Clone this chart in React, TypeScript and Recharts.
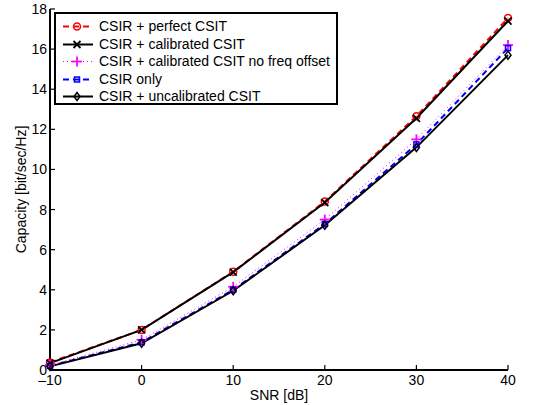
import { LineChart, Line, XAxis, YAxis } from 'recharts';

const snrDb = [-10, 0, 10, 20, 30, 40];
const perfectCsit = [0.38, 2.0, 4.9, 8.4, 12.65, 17.55];
const calibratedCsit = [0.34, 2.0, 4.88, 8.35, 12.55, 17.4];
const calibratedNoOffset = [0.25, 1.5, 4.15, 7.5, 11.5, 16.2];
const csirOnly = [0.2, 1.38, 4.0, 7.28, 11.25, 16.05];
const uncalibratedCsit = [0.18, 1.33, 3.95, 7.22, 11.1, 15.7];

const xTicks = [-10, 0, 10, 20, 30, 40];
const yTicks = [0, 2, 4, 6, 8, 10, 12, 14, 16, 18];

const data = snrDb.map((snr, i) => ({
  snr,
  perfect: perfectCsit[i],
  calibrated: calibratedCsit[i],
  noOffset: calibratedNoOffset[i],
  csir: csirOnly[i],
  uncalibrated: uncalibratedCsit[i],
}));

const FONT = '"Liberation Sans", Arial, sans-serif';

type MarkerKind = 'circle' | 'x' | 'plus' | 'square' | 'diamond';

const Marker = ({ kind, cx, cy, color }: { kind: MarkerKind; cx: number; cy: number; color: string }) => {
  const s = 3.5;
  switch (kind) {
    case 'circle':
      return <circle cx={cx} cy={cy} r={s} fill="none" stroke={color} strokeWidth={1.5} />;
    case 'x':
      return (
        <g stroke={color} strokeWidth={1.8}>
          <line x1={cx - s} y1={cy - s} x2={cx + s} y2={cy + s} />
          <line x1={cx - s} y1={cy + s} x2={cx + s} y2={cy - s} />
        </g>
      );
    case 'plus':
      return (
        <g stroke={color} strokeWidth={1.8}>
          <line x1={cx - 5} y1={cy} x2={cx + 5} y2={cy} />
          <line x1={cx} y1={cy - 5} x2={cx} y2={cy + 5} />
        </g>
      );
    case 'square':
      return <rect x={cx - 2.5} y={cy - 2.5} width={5} height={5} fill="none" stroke={color} strokeWidth={1.5} />;
    case 'diamond':
      return (
        <polygon
          points={`${cx},${cy - 4} ${cx + 3},${cy} ${cx},${cy + 4} ${cx - 3},${cy}`}
          fill="none"
          stroke={color}
          strokeWidth={1.5}
        />
      );
  }
};

const series = [
  { key: 'perfect', name: 'CSIR + perfect CSIT', color: '#ff0000', dash: '6 4', width: 2, marker: 'circle' as MarkerKind },
  { key: 'calibrated', name: 'CSIR + calibrated CSIT', color: '#000000', dash: undefined, width: 2, marker: 'x' as MarkerKind },
  { key: 'noOffset', name: 'CSIR + calibrated CSIT no freq offset', color: '#ff00ff', dash: '1 3', width: 1, marker: 'plus' as MarkerKind },
  { key: 'csir', name: 'CSIR only', color: '#0000ff', dash: '6 4', width: 2, marker: 'square' as MarkerKind },
  { key: 'uncalibrated', name: 'CSIR + uncalibrated CSIT', color: '#000000', dash: undefined, width: 2, marker: 'diamond' as MarkerKind },
];

const fmt = (v: number) => (v < 0 ? `\u2013${Math.abs(v)}` : `${v}`);

const BottomTick = (props: any) => {
  const { x, y, payload } = props;
  return (
    <g>
      <line x1={x} y1={y} x2={x} y2={y - 5} stroke="#000" strokeWidth={1.2} />
      <text x={x} y={y + 15} textAnchor="middle" fontSize={14} fontFamily={FONT} fill="#000">
        {fmt(payload.value)}
      </text>
    </g>
  );
};

const TopTick = (props: any) => {
  const { x, y } = props;
  return <line x1={x} y1={y} x2={x} y2={y + 5} stroke="#000" strokeWidth={1.2} />;
};

const LeftTick = (props: any) => {
  const { x, y, payload } = props;
  return (
    <g>
      <line x1={x} y1={y} x2={x + 5} y2={y} stroke="#000" strokeWidth={1.2} />
      <text x={x - 3} y={y + 5} textAnchor="end" fontSize={14} fontFamily={FONT} fill="#000">
        {payload.value}
      </text>
    </g>
  );
};

const RightTick = (props: any) => {
  const { x, y } = props;
  return <line x1={x} y1={y} x2={x - 5} y2={y} stroke="#000" strokeWidth={1.2} />;
};

const LegendBox = () => (
  <div
    style={{
      position: 'absolute',
      left: 54,
      top: 12,
      width: 280,
      height: 89,
      border: '2px solid #000',
      background: '#fff',
      fontFamily: FONT,
      fontSize: 14,
    }}
  >
    {series.map((s, i) => (
      <div key={s.key} style={{ position: 'absolute', left: 0, top: 4 + i * 17.5, height: 17, display: 'flex', alignItems: 'center' }}>
        <svg width={43} height={17} style={{ display: 'block' }}>
          <line x1={7} y1={8.5} x2={37} y2={8.5} stroke={s.color} strokeWidth={s.width} strokeDasharray={s.dash} />
          <Marker kind={s.marker} cx={21} cy={8.5} color={s.color} />
        </svg>
        <span style={{ whiteSpace: 'nowrap', lineHeight: '17px' }}>{s.name}</span>
      </div>
    ))}
  </div>
);

export default function App() {
  return (
    <div style={{ position: 'absolute', left: 0, top: 0, width: 533, height: 405, background: '#fff' }}>
      <LineChart width={533} height={405} data={data} margin={{ top: 9, right: 25, bottom: 2, left: 10 }}>
        <XAxis
          dataKey="snr"
          type="number"
          domain={[-10, 40]}
          ticks={xTicks}
          tickLine={false}
          tickSize={0}
          tickMargin={0}
          tick={BottomTick}
          height={33}
          axisLine={{ stroke: '#000', strokeWidth: 2 }}
          label={{ value: 'SNR [dB]', position: 'insideBottom', offset: 3, fontSize: 14, fontFamily: FONT, fill: '#000' }}
        />
        <XAxis
          xAxisId="top"
          orientation="top"
          dataKey="snr"
          type="number"
          domain={[-10, 40]}
          ticks={xTicks}
          tickLine={false}
          tickSize={0}
          tickMargin={0}
          tick={TopTick}
          height={0}
          axisLine={{ stroke: '#000', strokeWidth: 2 }}
        />
        <YAxis
          type="number"
          domain={[0, 18]}
          ticks={yTicks}
          tickLine={false}
          tickSize={0}
          tickMargin={0}
          tick={LeftTick}
          width={40}
          axisLine={{ stroke: '#000', strokeWidth: 2 }}
          label={{
            value: 'Capacity [bit/sec/Hz]',
            angle: -90,
            position: 'insideLeft',
            offset: 11,
            fontSize: 14,
            fontFamily: FONT,
            fill: '#000',
            style: { textAnchor: 'middle' },
          }}
        />
        <YAxis
          yAxisId="right"
          orientation="right"
          type="number"
          domain={[0, 18]}
          ticks={yTicks}
          tickLine={false}
          tickSize={0}
          tickMargin={0}
          tick={RightTick}
          width={0}
          axisLine={{ stroke: '#000', strokeWidth: 2 }}
        />
        {series.map((s) => (
          <Line
            key={s.key}
            dataKey={s.key}
            name={s.name}
            type="linear"
            stroke={s.color}
            strokeWidth={s.width}
            strokeDasharray={s.dash}
            isAnimationActive={false}
            activeDot={false}
            dot={(p: any) => <Marker key={`${s.key}-${p.index}`} kind={s.marker} cx={p.cx} cy={p.cy} color={s.color} />}
          />
        ))}
      </LineChart>
      <LegendBox />
    </div>
  );
}
